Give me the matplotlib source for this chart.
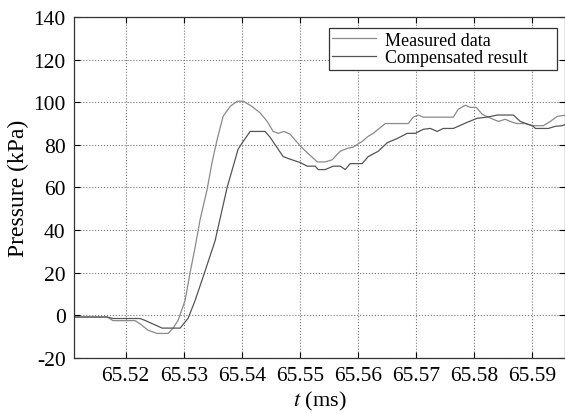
import numpy as np
import matplotlib
matplotlib.use("Agg")
import matplotlib.pyplot as plt

plt.rcParams['font.family'] = ['Liberation Serif', 'DejaVu Serif']
plt.rcParams['mathtext.fontset'] = 'stix'
plt.rcParams['axes.unicode_minus'] = False

t_meas = [65.51110, 65.51679, 65.51783, 65.52162, 65.52248, 65.52386, 65.52541,
          65.52731, 65.52817, 65.52903, 65.53024, 65.53110, 65.53197, 65.53283,
          65.53403, 65.53490, 65.53576, 65.53679, 65.53800, 65.53921, 65.54024,
          65.54179, 65.54317, 65.54438, 65.54541, 65.54628, 65.54731, 65.54834,
          65.55024, 65.55300, 65.55438, 65.55559, 65.55697, 65.55817, 65.55921,
          65.56076, 65.56179, 65.56266, 65.56472, 65.56869, 65.56955, 65.57041,
          65.57128, 65.57645, 65.57731, 65.57852, 65.57938, 65.58041, 65.58145,
          65.58248, 65.58421, 65.58541, 65.58662, 65.58748, 65.58886, 65.59024,
          65.59197, 65.59317, 65.59438, 65.59576]
p_meas = [-0.8, -0.8, -2.5, -2.5, -4.0, -7.0, -8.5,
          -8.5, -6.0, -2.4, 7.0, 20.0, 32.0, 45.0,
          59.0, 72.0, 82.5, 93.4, 98.0, 100.5, 100.5,
          98.0, 95.0, 91.0, 86.3, 85.4, 86.3, 85.0,
          79.0, 72.0, 72.0, 73.0, 77.0, 78.3, 79.0,
          81.6, 84.0, 85.4, 90.0, 90.0, 93.0, 94.0,
          93.0, 93.0, 96.7, 98.6, 97.6, 97.6, 94.3,
          93.0, 91.0, 92.0, 90.6, 90.0, 90.0, 89.0,
          89.0, 91.0, 93.4, 93.9]

# Compensated result
t_comp = [65.51110, 65.51679, 65.51783, 65.52248, 65.52334, 65.52628, 65.52938,
          65.53076, 65.53197, 65.53334, 65.53541, 65.53748, 65.53938, 65.54024,
          65.54145, 65.54403, 65.54490, 65.54714, 65.54800, 65.55007, 65.55128,
          65.55266, 65.55317, 65.55438, 65.55576, 65.55697, 65.55783, 65.55869,
          65.56076, 65.56179, 65.56352, 65.56507, 65.56679, 65.56852, 65.56990,
          65.57128, 65.57248, 65.57369, 65.57472, 65.57645, 65.57886, 65.58059,
          65.58231, 65.58403, 65.58679, 65.58800, 65.59024, 65.59059, 65.59283,
          65.59403, 65.59524, 65.59576]
p_comp = [-0.8, -0.8, -1.5, -1.5, -2.4, -6.0, -6.0,
          -1.4, 7.0, 18.0, 35.0, 60.0, 78.0, 81.6,
          86.3, 86.3, 83.5, 74.5, 73.6, 71.7, 70.0,
          70.0, 68.4, 68.4, 70.0, 70.0, 68.4, 71.2,
          71.2, 74.5, 77.0, 81.0, 83.0, 85.4, 85.4,
          87.3, 87.7, 86.3, 87.7, 87.7, 90.6, 92.5,
          93.0, 94.0, 94.0, 91.0, 88.7, 87.7, 87.7,
          88.7, 89.0, 89.6]

x_ticks = [65.52, 65.53, 65.54, 65.55, 65.56, 65.57, 65.58, 65.59]
y_ticks = [-20, 0, 20, 40, 60, 80, 100, 120, 140]

fig = plt.figure(figsize=(5.65, 4.14), dpi=100)
ax = fig.add_axes([0.131, 0.133, 0.869, 0.8235])

ax.plot(t_meas, p_meas, color="#8a8a8a", lw=0.9, label="Measured data")
ax.plot(t_comp, p_comp, color="#555555", lw=0.9, label="Compensated result")

ax.set_xlim(65.5111, 65.5957)
ax.set_ylim(-20, 140)
ax.set_xticks(x_ticks)
ax.set_xticklabels(["%.2f" % v for v in x_ticks])
ax.set_yticks(y_ticks)
ax.tick_params(direction="in", top=True, right=True, labelsize=15.5, length=4,
               width=0.8, pad=6)
ax.grid(True, linestyle=":", color="#777777", linewidth=0.8)
for s in ax.spines.values():
    s.set_linewidth(0.9)
    s.set_color("#333333")

ax.set_xlabel("$t$ (ms)", fontsize=16, labelpad=3)
ax.set_ylabel("Pressure (kPa)", fontsize=17, labelpad=3)

leg = ax.legend(loc="upper left", bbox_to_anchor=(0.519, 0.839, 0.464, 0.129),
                mode="expand", borderaxespad=0,
                fontsize=13, fancybox=False, framealpha=1, edgecolor="#333333",
                handlelength=2.4, handletextpad=0.5, borderpad=0.2,
                labelspacing=0.05)
leg.get_frame().set_linewidth(0.9)

fig.savefig("out.png", dpi=100)
